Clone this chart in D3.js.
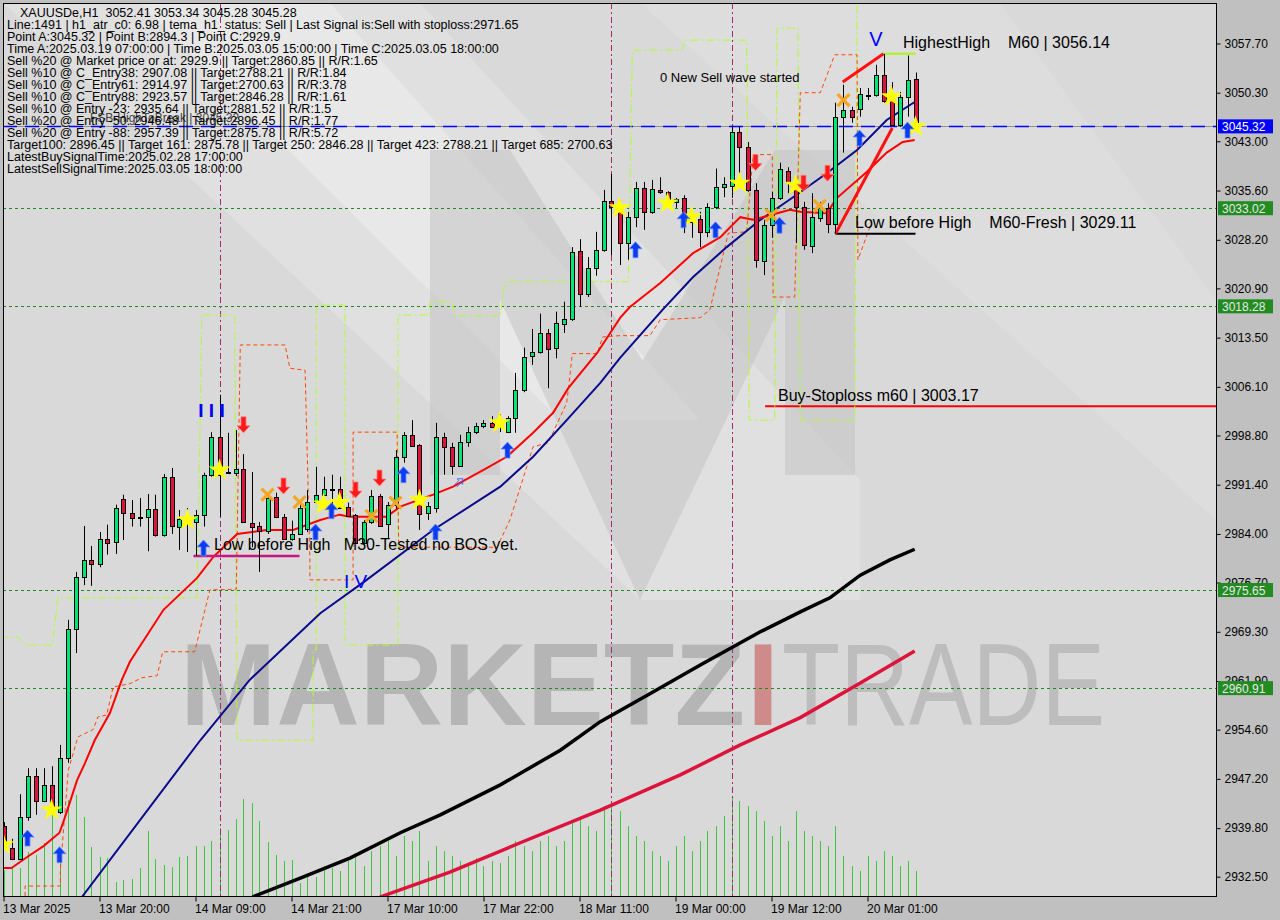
<!DOCTYPE html>
<html><head><meta charset="utf-8">
<script src="https://cdn.jsdelivr.net/npm/d3@7"></script>
<style>
body{margin:0;background:#c0c0c0;}
svg{display:block;}
text{font-family:"Liberation Sans",Arial,sans-serif;}
</style></head>
<body><svg id="c" width="1280" height="920"></svg>
<script>
// ---------------- DATA ----------------
const opens=[2940.1,2936.8,2935.2,2941.5,2947.6,2943.9,2946.3,2942.2,2950.3,2969.7,2977.5,2980.1,2979.5,2983.3,2982.8,2989.3,2987.2,2986.6,2986.6,2987.8,
2983.9,2992.6,2985.1,2986.3,2985.8,2986.9,2992.9,2998.6,2993.3,2993.2,2993.8,2985.7,2985.2,2984.5,2989.6,2986.6,2983.3,2984.0,2984.8,2988.8,
2989.9,2990.8,2990.8,2988.1,2986.9,2982.7,2985.8,2989.7,2985.5,2988.4,2995.6,2998.9,2997.4,2987.2,2987.9,2998.6,2997.1,2994.2,2997.8,2999.3,
3000.2,3000.7,3000.4,2999.3,3001.4,3005.6,3010.8,3011.4,3014.2,3012.0,3015.6,3016.3,3026.5,3020.1,3024.0,3026.7,3034.0,3033.0,3027.7,3031.6,
3036.0,3032.4,3035.7,3035.4,3033.9,3034.5,3030.9,3031.3,3029.4,3033.1,3036.1,3036.3,3044.4,3042.2,3035.7,3025.0,3030.4,3034.5,3038.5,3036.7,
3033.1,3027.3,3031.5,3033.0,3030.6,3046.7,3047.7,3047.9,3050.0,3050.0,3053.0,3049.2,3045.5,3049.7,3052.41];
const highs=[2940.7,2938.2,2944.9,2948.8,2948.8,2948.8,2949.1,2952.3,2971.1,2978.3,2985.2,2982.2,2984.3,2985.4,2988.4,2989.9,2989.1,2989.4,2990.0,2989.9,
2993.0,2993.9,2987.6,2987.9,2987.6,2993.2,2999.3,3004.9,2999.2,2999.6,2996.0,2993.3,2985.8,2989.9,2990.2,2987.0,2986.0,2988.7,2990.6,2994.1,
2992.6,2992.9,2992.6,2988.7,2987.0,2986.1,2990.6,2990.0,2988.8,2996.6,2999.3,3001.1,2997.5,2988.8,3000.7,2999.2,2997.7,2998.9,3000.1,3000.7,
3001.1,3001.7,3002.0,3001.7,3008.2,3012.0,3014.8,3017.1,3014.8,3017.4,3018.9,3027.1,3028.3,3025.6,3029.4,3035.7,3038.1,3034.2,3032.4,3036.9,
3036.9,3037.2,3037.6,3035.5,3034.5,3034.9,3032.7,3032.4,3033.7,3038.9,3037.6,3045.2,3045.2,3042.9,3036.7,3031.2,3035.4,3039.8,3039.1,3037.5,
3033.9,3035.2,3033.9,3033.7,3048.8,3051.5,3048.2,3051.0,3051.0,3054.5,3056.14,3051.9,3050.4,3055.9,3053.34];
const lows=[2936.8,2935.0,2935.0,2940.9,2941.8,2943.7,2942.2,2941.9,2949.6,2966.1,2976.3,2976.2,2979.0,2980.9,2981.0,2983.1,2985.1,2985.1,2981.4,2983.6,
2983.6,2984.0,2981.6,2981.3,2980.7,2985.1,2992.6,2986.6,2993.0,2992.7,2985.7,2982.0,2978.3,2984.0,2986.4,2983.1,2983.0,2983.9,2984.3,2988.7,
2989.7,2987.2,2987.8,2986.6,2982.5,2982.4,2985.5,2985.1,2983.4,2987.8,2994.7,2997.1,2984.6,2986.1,2987.2,2992.9,2992.9,2994.1,2997.1,2999.0,
2999.9,2999.9,2999.3,2999.2,2999.2,3005.3,3009.4,3011.1,3005.9,3010.4,3014.2,3016.0,3018.1,3019.6,3022.8,3026.4,3025.9,3024.4,3025.2,3030.1,
3029.7,3032.1,3035.1,3033.0,3033.0,3029.2,3028.5,3027.1,3028.6,3032.8,3034.6,3034.5,3037.9,3035.4,3024.0,3022.9,3028.5,3034.2,3035.2,3027.7,
3026.7,3026.2,3030.9,3029.2,3029.11,3041.3,3045.8,3046.7,3049.2,3049.7,3048.8,3045.3,3045.2,3046.7,3045.28];
const closes=[2937.6,2935.2,2941.5,2947.6,2943.9,2946.3,2942.5,2950.3,2969.7,2977.5,2980.1,2979.5,2983.3,2982.7,2987.9,2987.2,2986.4,2986.5,2987.8,2983.9,
2992.6,2985.2,2986.3,2985.7,2986.9,2992.9,2998.6,2992.9,2993.2,2993.8,2985.8,2985.1,2984.5,2989.4,2986.6,2983.3,2984.0,2987.9,2988.8,2989.9,
2990.8,2990.7,2987.9,2986.7,2982.7,2985.8,2989.7,2985.2,2988.4,2995.6,2998.9,2997.2,2987.0,2988.2,2998.6,2997.1,2994.2,2997.8,2999.3,3000.2,
3000.7,3000.1,3000.5,3001.4,3005.6,3010.6,3011.4,3014.2,3011.8,3015.7,3016.3,3026.4,3020.1,3024.0,3026.7,3034.0,3033.1,3027.7,3031.6,3036.0,
3032.4,3035.8,3035.4,3034.2,3034.3,3030.7,3031.5,3029.4,3033.1,3036.1,3036.6,3044.4,3042.2,3035.7,3025.2,3030.4,3034.5,3038.9,3036.9,3033.1,
3027.4,3031.6,3033.0,3030.6,3046.7,3047.7,3046.7,3050.1,3049.9,3053.0,3049.1,3045.5,3049.7,3052.2,3045.28];
const volumes=[26,28,28,44,41,53,84,46,96,101,79,49,39,38,14,16,17,28,65,37,31,29,39,40,50,50,55,68,66,77,97,93,75,54,41,35,36,13,21,19,
30,28,25,35,40,30,45,50,55,40,60,55,65,35,50,45,40,35,30,38,30,35,33,40,55,50,45,55,60,50,55,75,80,70,65,90,95,85,70,60,
55,45,40,35,50,60,45,55,65,70,80,100,95,90,85,75,60,70,55,85,65,60,55,50,70,40,30,25,40,35,45,40,30,35,25];

const timeLabels=["13 Mar 2025","13 Mar 20:00","14 Mar 09:00","14 Mar 21:00","17 Mar 10:00","17 Mar 22:00","18 Mar 11:00","19 Mar 00:00","19 Mar 12:00","20 Mar 01:00"];
const timeLabelBars=[0,12,24,36,48,60,72,84,96,108];
const priceTicks=[3057.70,3050.30,3043.00,3035.60,3028.20,3020.90,3013.50,3006.10,2998.80,2991.40,2984.00,2976.70,2969.30,2961.90,2954.60,2947.20,2939.80,2932.50];

// moving averages (bar index, price)
const emaRed=[[0,2933.8],[1,2933.8],[3,2935.5],[5,2937.1],[7,2939.1],[7.7,2941.5],[9.2,2947.0],[10.2,2949.6],[11.4,2953.0],[13.3,2957.1],[14.8,2962.1],[15.8,2964.8],[20,2972.6],[24.2,2977.4],[26.2,2980.5],[29.2,2984.0],[32.9,2984.6],[36.2,2984.6],[39.6,2986.1],[42,2986.9],[43.3,2986.6],[47.9,2986.6],[49.6,2988.1],[53.7,2989.9],[56.2,2991.1],[60.4,2993.9],[62.9,2995.6],[66.2,2999.2],[68.7,3002.2],[70.6,3005.9],[74.2,3011.2],[77.1,3016.5],[78.3,3018.1],[82.1,3021.7],[86.2,3026.2],[89.6,3028.6],[92.1,3031.6],[93.7,3031.2],[96.7,3032.2],[98.3,3032.7],[99.6,3032.4],[102.9,3032.2],[104.2,3034.5],[107.9,3038.4],[110.4,3041.3],[112.4,3042.9],[113.9,3043.2]];
const emaBlue=[[9.5,2928.8],[9.9,2929.6],[24.6,2953.0],[30.8,2962.1],[39.6,2972.1],[45.4,2977.1],[53.7,2984.6],[62.1,2991.1],[66.2,2995.6],[70.4,3001.1],[74.6,3006.7],[77.1,3010.5],[82.4,3017.7],[86.2,3022.6],[90.4,3027.1],[94.6,3031.2],[98.7,3034.6],[102.9,3038.2],[106.7,3041.7],[110.4,3046.2],[113.9,3048.9]];
const smaBlack=[[29.6,2928.3],[31.4,2929.6],[37.1,2932.3],[43.3,2935.3],[49.6,2939.1],[54.6,2941.8],[62.1,2946.3],[69.6,2951.5],[74.6,2955.8],[80.8,2960.0],[87.1,2964.3],[94.6,2969.3],[99.6,2972.3],[103.3,2974.4],[107.1,2977.8],[110.8,2980.1],[113.9,2981.7]];
const smaCrimson=[[45.8,2928.7],[47.4,2929.6],[55.8,2933.2],[64.6,2937.6],[74.6,2942.5],[84.6,2947.8],[92.1,2952.3],[99.6,2956.4],[107.1,2961.6],[113.9,2966.4]];
// step channels
const limeStep=[[-0.5,2968.5],[1.8,2968.5],[2.7,2967.3],[6.1,2967.3],[6.8,2974.4],[24.2,2974.4],[24.8,3016.9],[28.9,3016.9],[29.2,2953.0],[38.7,2953.0],
[38.7,2966.6],[39.1,2966.6],[39.1,3018.4],[42.7,3018.4],[42.7,2967.3],[49.3,2967.3],[49.3,3016.9],[53.3,3016.9],[53.3,3018.9],[56.1,3018.9],[56.4,3016.8],[62.1,3016.8],[62.7,3021.9],[78.1,3021.9],
[78.6,3056.7],[84.8,3056.7],[85.2,3058.2],[92.9,3058.2],[93.2,3001.1],[96.4,3001.1],[96.7,3060.0],[99.3,3060.0],[99.6,3001.1],[106.4,3001.1],[106.7,3063.8]];
const orangeStep=[[2.7,2929.6],[2.7,2931.1],[7.1,2931.1],[7.1,2933.5],[8.1,2948.5],[9.3,2953.5],[11.2,2954.6],[11.8,2956.5],[12.9,2956.8],[13.7,2961.0],[15.8,2961.5],[17.3,2962.4],[19.2,2962.7],[19.9,2966.3],[23.9,2966.3],[25.8,2975.6],[29.1,2975.7],[29.6,3012.4],[35.2,3012.4],[35.8,3008.9],[37.7,3008.6],[38.3,2980.1],
[38.3,2977.1],[43.7,2977.1],[43.7,2999.3],[49.2,2999.3],[49.4,2982.0],[61.7,2982.0],[63.3,2986.1],[66.2,2997.1],[68.1,2997.7],[70.4,3003.7],[70.6,3005.6],[71.1,3011.1],[74.2,3011.1],[74.9,3013.6],[77.1,3013.8],[80.8,3013.8],[82.1,3016.2],[87.1,3016.5],[88.3,3017.7],
[90.6,3029.2],[92.9,3029.4],[93.7,3041.0],[96.1,3041.0],[96.2,3019.6],[98.9,3019.6],[99.6,3050.3],[102.1,3050.3],[103.9,3056.0],[106.7,3056.0],[106.8,3025.2],[108.3,3030.1]];

// markers (bar index, price)
const starMarks=[[0,2937.3],[6,2942.5],[23,2986.1],[27,2993.6],[40,2988.5],[42,2988.7],[52,2989.1],[62,3000.7],[77,3033.0],[83,3033.7],[86,3031.6],[92,3036.7],[99,3036.4],[111,3049.7],[114,3045.2]];
const crossMarks=[[33,2989.9],[37,2988.8],[46,2986.7],[49,2988.7],[96,3031.9],[102,3033.3],[105,3049.2]];
const buyArrows=[[3,2938.3],[7,2935.8],[25,2981.9],[39,2984.3],[41,2987.5],[50,2992.9],[54,2984.3],[63,2996.6],[79,3026.7],[85,3031.2],[89,3029.7],[97,3030.4],[107,3043.5],[113,3044.7]];
const sellArrows=[[30,3000.4],[35,2991.2],[44,2990.6],[47,2992.4],[94,3039.8],[100,3036.7],[103,3038.2]];
const hollowBuy=[[57,2991.8]];

const levelLines=[{v:3033.02,c:"#1f8b1f"},{v:3018.28,c:"#1f8b1f"},{v:2975.65,c:"#1f8b1f"},{v:2960.91,c:"#1f8b1f"}];
const fsbLevel=3045.32, stopLevel=3003.17, highestHigh=3056.14, lowFresh=3029.11, lowTested=2980.7;
const vLineBars=[27,76,91];

const infoLines=["XAUUSDe,H1  3052.41 3053.34 3045.28 3045.28",
"Line:1491 | h1_atr_c0: 6.98 | tema_h1_status: Sell | Last Signal is:Sell with stoploss:2971.65",
"Point A:3045.32 | Point B:2894.3 | Point C:2929.9",
"Time A:2025.03.19 07:00:00 | Time B:2025.03.05 15:00:00 | Time C:2025.03.05 18:00:00",
"Sell %20 @ Market price or at: 2929.9 || Target:2860.85 || R/R:1.65",
"Sell %10 @ C_Entry38: 2907.08 || Target:2788.21 || R/R:1.84",
"Sell %10 @ C_Entry61: 2914.97 || Target:2700.63 || R/R:3.78",
"Sell %10 @ C_Entry88: 2923.57 || Target:2846.28 || R/R:1.61",
"Sell %10 @ Entry -23: 2935.64 || Target:2881.52 || R/R:1.5",
"Sell %20 @ Entry -50: 2946.48 || Target:2896.45 || R/R:1.77",
"Sell %20 @ Entry -88: 2957.39 || Target:2875.78 || R/R:5.72",
"Target100: 2896.45 || Target 161: 2875.78 || Target 250: 2846.28 || Target 423: 2788.21 || Target 685: 2700.63",
"LatestBuySignalTime:2025.02.28 17:00:00",
"LatestSellSignalTime:2025.03.05 18:00:00"];

// ---------------- DRAW ----------------
const NB="\u00a0";
const svg=d3.select("#c");
const PL=3,PT=3,PR=1216,PB=896;
const x=d3.scaleLinear().domain([0,114]).range([3.5,915.5]);
const y=d3.scaleLinear().domain([2929.6,3063.78]).range([PB,PT]);
const yVol=d3.scaleLinear().domain([0,100]).range([PB,PB-100]);

svg.append("rect").attr("width",1280).attr("height",920).attr("fill","#c0c0c0");
svg.append("defs").append("clipPath").attr("id","pc").append("rect").attr("x",PL).attr("y",PT).attr("width",PR-PL).attr("height",PB-PT);
const g=svg.append("g").attr("clip-path","url(#pc)");
g.append("rect").attr("x",PL).attr("y",PT).attr("width",PR-PL).attr("height",PB-PT).attr("fill","#d9d9d9");
const bg=g.append("g");
bg.append("path").attr("d","M3,3 L420,3 L860,480 L860,600 L640,600 Z").attr("fill","#ffffff").attr("opacity",0.18);
bg.append("path").attr("d","M140,3 L330,3 L700,420 L560,420 Z").attr("fill","#ffffff").attr("opacity",0.25);
bg.append("path").attr("d","M640,3 L1000,3 L1216,300 L1216,520 Z").attr("fill","#ffffff").attr("opacity",0.12);
const mlogo=g.append("g").attr("fill","#c4c4c4").attr("opacity",0.55);
mlogo.append("path").attr("d","M430,150 L500,150 L500,475 L430,475 Z");
mlogo.append("path").attr("d","M785,150 L855,150 L855,475 L785,475 Z");
mlogo.append("path").attr("d","M430,150 L510,150 L680,420 L640,600 Z");
mlogo.append("path").attr("d","M855,150 L775,150 L605,420 L640,600 Z");
g.append("text").attr("x",180).attr("y",725).attr("font-size",117).attr("font-weight","bold").attr("fill","#b5b5b5").attr("textLength",565).attr("lengthAdjust","spacingAndGlyphs").text("MARKETZ");
g.append("text").attr("x",747).attr("y",725).attr("font-size",117).attr("font-weight","bold").attr("fill","#cf8a8a").attr("textLength",32).attr("lengthAdjust","spacingAndGlyphs").text("I");
g.append("text").attr("x",782).attr("y",725).attr("font-size",117).attr("font-family","Roboto").attr("font-weight",300).attr("fill","#bdbdbd").attr("textLength",323).attr("lengthAdjust","spacingAndGlyphs").text("TRADE");

// volumes
g.append("g").selectAll("line").data(volumes).join("line")
 .attr("x1",(d,i)=>Math.round(x(i))+0.5).attr("x2",(d,i)=>Math.round(x(i))+0.5)
 .attr("y1",yVol(0)).attr("y2",d=>yVol(d)).attr("stroke","#3cc83c").attr("stroke-width",1);

g.append("g").selectAll("line").data(vLineBars).join("line")
 .attr("x1",d=>Math.round(x(d))+0.5).attr("x2",d=>Math.round(x(d))+0.5).attr("y1",PT).attr("y2",PB)
 .attr("stroke","#a02c70").attr("stroke-width",1).attr("stroke-dasharray","6,3,2,3");

g.append("g").selectAll("line").data(levelLines).join("line")
 .attr("x1",PL).attr("x2",PR).attr("y1",d=>Math.round(y(d.v))+0.5).attr("y2",d=>Math.round(y(d.v))+0.5)
 .attr("stroke",d=>d.c).attr("stroke-dasharray","3,3");
g.append("line").attr("x1",PL).attr("x2",PR).attr("y1",Math.round(y(fsbLevel))+0.5).attr("y2",Math.round(y(fsbLevel))+0.5).attr("stroke","#909090");
g.append("line").attr("x1",PL).attr("x2",PR).attr("y1",Math.round(y(fsbLevel))+0.5).attr("y2",Math.round(y(fsbLevel))+0.5).attr("stroke","#0000ff").attr("stroke-width",1.5).attr("stroke-dasharray","14,8");
g.append("line").attr("x1",x(95.2)).attr("x2",PR).attr("y1",y(stopLevel)).attr("y2",y(stopLevel)).attr("stroke","#ff0000").attr("stroke-width",2);

const line=d3.line().x(d=>x(d[0])).y(d=>y(d[1]));
g.append("path").attr("d",line(limeStep)).attr("fill","none").attr("stroke","#adff2f").attr("stroke-dasharray","8,3,2,3");
g.append("path").attr("d",line(orangeStep)).attr("fill","none").attr("stroke","#ff4500").attr("stroke-dasharray","4,3");
g.append("path").attr("d",line(smaCrimson)).attr("fill","none").attr("stroke","#dc143c").attr("stroke-width",3.5);
g.append("path").attr("d",line(smaBlack)).attr("fill","none").attr("stroke","#000000").attr("stroke-width",3.5);
g.append("path").attr("d",line(emaBlue)).attr("fill","none").attr("stroke","#0a0a8c").attr("stroke-width",2);
g.append("path").attr("d",line(emaRed)).attr("fill","none").attr("stroke","#ff0000").attr("stroke-width",2);

g.append("line").attr("x1",x(24)-2).attr("x2",x(37)).attr("y1",y(lowTested)).attr("y2",y(lowTested)).attr("stroke","#c71585").attr("stroke-width",2.5);
g.append("line").attr("x1",x(104)).attr("x2",x(114)).attr("y1",y(lowFresh)).attr("y2",y(lowFresh)).attr("stroke","#000").attr("stroke-width",2);
g.append("line").attr("x1",x(110)).attr("x2",x(114)).attr("y1",y(highestHigh)).attr("y2",y(highestHigh)).attr("stroke","#b4f03c").attr("stroke-width",2.5);
g.append("line").attr("x1",x(104)).attr("y1",y(lowFresh)).attr("x2",x(111.1)).attr("y2",y(3045.0)).attr("stroke","#ff1010").attr("stroke-width",3);
g.append("line").attr("x1",x(104.9)).attr("y1",y(3051.9)).attr("x2",x(110)).attr("y2",y(highestHigh)).attr("stroke","#ff1010").attr("stroke-width",3);

// candles
const cd=opens.map((o,i)=>({i,o,h:highs[i],l:lows[i],c:closes[i]}));
const cg=g.append("g");
cg.selectAll("line").data(cd).join("line")
 .attr("x1",d=>Math.round(x(d.i))+0.5).attr("x2",d=>Math.round(x(d.i))+0.5)
 .attr("y1",d=>y(d.h)).attr("y2",d=>y(d.l)).attr("stroke","#000");
cg.selectAll("rect").data(cd).join("rect")
 .attr("x",d=>Math.round(x(d.i))-1.5).attr("width",4)
 .attr("y",d=>Math.round(y(Math.max(d.o,d.c)))+0.5)
 .attr("height",d=>Math.max(1,Math.round(Math.abs(y(d.o)-y(d.c)))))
 .attr("fill",d=>d.c>=d.o?"#00e676":"#dc143c").attr("stroke","#000").attr("stroke-width",1);

// markers
const mg=g.append("g");
mg.selectAll(".st").data(starMarks).join("path").attr("class","st")
 .attr("transform",d=>`translate(${x(d[0])},${y(d[1])})`)
 .attr("d",d3.symbol().type(d3.symbolStar).size(150)()).attr("fill","#ffff00");
mg.selectAll(".cr").data(crossMarks).join("path").attr("class","cr")
 .attr("transform",d=>`translate(${x(d[0])},${y(d[1])})`)
 .attr("d","M-6,-6L6,6M6,-6L-6,6").attr("stroke","#f5a623").attr("stroke-width",3.2).attr("fill","none");
const upA="M0,-8L6.5,-1L2.5,-1L2.5,8L-2.5,8L-2.5,-1L-6.5,-1Z";
const dnA="M0,8L6.5,1L2.5,1L2.5,-8L-2.5,-8L-2.5,1L-6.5,1Z";
mg.selectAll(".ba").data(buyArrows).join("path").attr("class","ba")
 .attr("transform",d=>`translate(${x(d[0])},${y(d[1])})`).attr("d",upA).attr("fill","#0a3cf0").attr("stroke","#7090ff").attr("stroke-width",0.8);
mg.selectAll(".hb").data(hollowBuy).join("path").attr("class","hb")
 .attr("transform",d=>`translate(${x(d[0])},${y(d[1])}) rotate(45) scale(0.6)`).attr("d",upA).attr("fill","none").attr("stroke","#4060ff").attr("stroke-width",1.5);
mg.selectAll(".sa").data(sellArrows).join("path").attr("class","sa")
 .attr("transform",d=>`translate(${x(d[0])},${y(d[1])})`).attr("d",dnA).attr("fill","#ff1a1a").attr("stroke","#ff8080").attr("stroke-width",0.8);

// chart texts
const tg=g.append("g");
tg.append("text").attr("x",x(26)).attr("y",417).attr("text-anchor","middle").attr("font-size",19).attr("font-weight","bold").attr("fill","#0000ff").text("I I I");
tg.append("text").attr("x",344).attr("y",588).attr("font-size",19).attr("fill","#0000ff").text("I V");
tg.append("text").attr("x",876).attr("y",46).attr("text-anchor","middle").attr("font-size",20).attr("fill","#0000ff").text("V");
tg.append("text").attr("x",903).attr("y",48).attr("font-size",16).attr("fill","#000").text("HighestHigh"+NB+NB+NB+NB+"M60 | 3056.14");
tg.append("text").attr("x",855).attr("y",228).attr("font-size",16).attr("fill","#000").text("Low before High"+NB+NB+NB+NB+"M60-Fresh | 3029.11");
tg.append("text").attr("x",214).attr("y",550).attr("font-size",16).attr("fill","#000").text("Low before High"+NB+NB+NB+"M30-Tested no BOS yet.");
tg.append("text").attr("x",778).attr("y",401).attr("font-size",16).attr("fill","#000").text("Buy-Stoploss m60 | 3003.17");
tg.append("text").attr("x",660).attr("y",82).attr("font-size",13).attr("fill","#000").text("0 New Sell wave started");
tg.append("text").attr("x",90).attr("y",122).attr("font-size",12).attr("fill","#404040").text("FSB-HighToBreak | 3045.32");

const ig=g.append("g");
ig.selectAll("text").data(infoLines).join("text")
 .attr("x",(d,i)=>i===0?20:7).attr("y",(d,i)=>16.5+i*12).attr("font-size",12.5).attr("fill","#000").text(d=>d.replace(/  /g," "+NB));

// frame
svg.append("rect").attr("x",PL+0.5).attr("y",PT+0.5).attr("width",PR-PL).attr("height",PB-PT).attr("fill","none").attr("stroke","#000");

// axes
const ya=svg.append("g").attr("transform",`translate(${PR+0.5},0)`)
 .call(d3.axisRight(y).tickValues(priceTicks).tickFormat(d3.format(".2f")).tickSize(4).tickPadding(4));
ya.select(".domain").remove();
ya.selectAll("text").attr("font-size",12).attr("font-family","Liberation Sans").attr("fill","#000");
ya.selectAll("line").attr("stroke","#000");
const xa=svg.append("g").attr("transform",`translate(0,${PB+0.5})`)
 .call(d3.axisBottom(x).tickValues(timeLabelBars).tickFormat((d,i)=>timeLabels[i]).tickSize(5).tickPadding(3));
xa.select(".domain").remove();
xa.selectAll("text").attr("font-size",12).attr("font-family","Liberation Sans").attr("fill","#000").attr("text-anchor","start").attr("dx",-1);
xa.selectAll("line").attr("stroke","#000");

const labs=[{v:fsbLevel,bg:"#0000ff",fg:"#ffffff"}].concat(levelLines.map(d=>({v:d.v,bg:"#228b22",fg:"#e8e8e8"})));
const lg=svg.append("g");
labs.forEach(d=>{
  const yy=y(d.v);
  lg.append("rect").attr("x",1218).attr("y",yy-6.5).attr("width",55).attr("height",14).attr("fill",d.bg);
  lg.append("text").attr("x",1222).attr("y",yy+5).attr("font-size",12).attr("fill",d.fg).text(d3.format(".2f")(d.v));
});
</script></body></html>
